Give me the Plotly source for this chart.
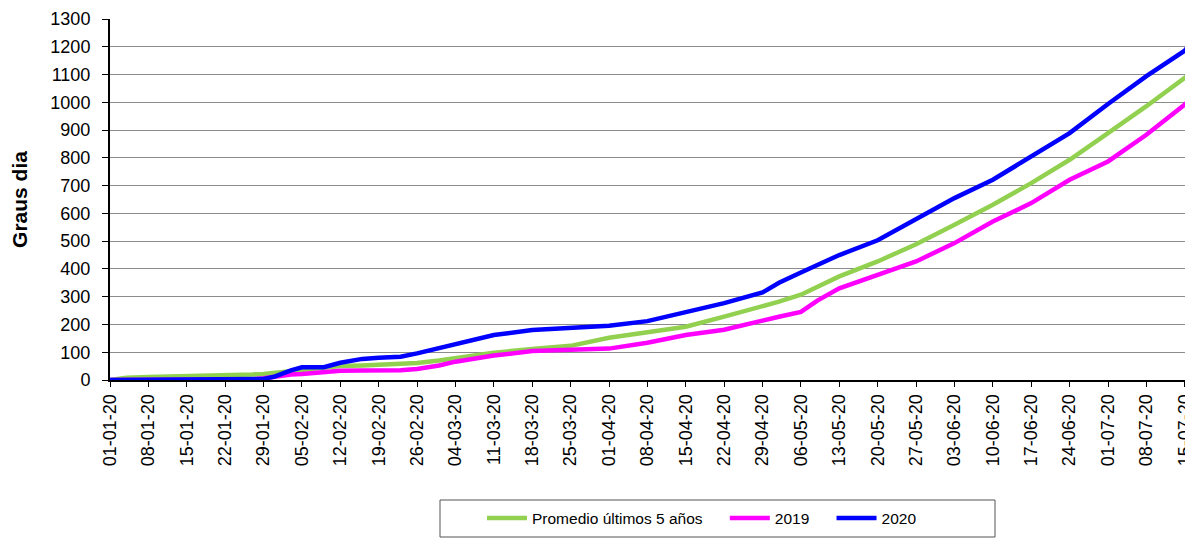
import plotly.graph_objects as go

dates = ["2020-01-01", "2020-01-04", "2020-01-08", "2020-01-15", "2020-01-22", "2020-01-27",
         "2020-01-29", "2020-01-31", "2020-02-03", "2020-02-05", "2020-02-09", "2020-02-12",
         "2020-02-16", "2020-02-19", "2020-02-23", "2020-02-26", "2020-03-01", "2020-03-04",
         "2020-03-11", "2020-03-18", "2020-03-25", "2020-04-01", "2020-04-08", "2020-04-15",
         "2020-04-22", "2020-04-29", "2020-05-02", "2020-05-06", "2020-05-09", "2020-05-13",
         "2020-05-20", "2020-05-27", "2020-06-03", "2020-06-10", "2020-06-17", "2020-06-24",
         "2020-07-01", "2020-07-08", "2020-07-15", "2020-07-16"]

promedio = [0, 8, 11, 13, 16, 20, 22, 26, 32, 37, 45, 50, 52, 54, 57, 61, 70, 78,
            98, 112, 123, 152, 171, 192, 228, 264, 282, 307, 336, 373, 427, 489, 559,
            631, 709, 793, 889, 986, 1088, 1105]

y2019 = [0, 0, 0, 0, 0, 2, 6, 12, 20, 22, 28, 33, 34, 34, 35, 40, 52, 66,
         88, 104, 109, 113, 134, 162, 181, 216, 228, 245, 286, 330, 379, 427, 493,
         571, 637, 721, 787, 883, 992, 1010]

y2020 = [0, 0, 0, 0, 0, 1, 4, 12, 35, 46, 46, 62, 76, 80, 84, 96, 115, 132,
         162, 180, 187, 195, 212, 245, 277, 315, 350, 387, 415, 450, 503, 580, 655,
         721, 805, 889, 994, 1094, 1186, 1210]

tick_dates = ["2020-01-01", "2020-01-08", "2020-01-15", "2020-01-22", "2020-01-29",
              "2020-02-05", "2020-02-12", "2020-02-19", "2020-02-26", "2020-03-04",
              "2020-03-11", "2020-03-18", "2020-03-25", "2020-04-01", "2020-04-08",
              "2020-04-15", "2020-04-22", "2020-04-29", "2020-05-06", "2020-05-13",
              "2020-05-20", "2020-05-27", "2020-06-03", "2020-06-10", "2020-06-17",
              "2020-06-24", "2020-07-01", "2020-07-08", "2020-07-15"]
y_ticks = list(range(0, 1301, 100))

NB = "\u00a0"
fig = go.Figure()
fig.add_trace(go.Scatter(x=dates, y=promedio, mode="lines",
                         name="Promedio últimos 5 años" + NB * 4,
                         line=dict(color="#92D050", width=4.5)))
fig.add_trace(go.Scatter(x=dates, y=y2019, mode="lines", name="2019" + NB * 4,
                         line=dict(color="#FF00FF", width=4.5)))
fig.add_trace(go.Scatter(x=dates, y=y2020, mode="lines", name="2020",
                         line=dict(color="#0000FF", width=4.5)))

# page is drawn with an 8px body offset
OFF = 8
W, H = 1193, 547
L, R, T, B = 102, 8, 11, 175
pw, ph = W - L - R, H - T - B

def px_x(p):
    return (p - OFF - L) / pw

def px_y(p):
    return (H - B - (p - OFF)) / ph

font_family = "Liberation Sans, Arial, sans-serif"
fig.update_layout(
    width=W, height=H,
    margin=dict(l=L, r=R, t=T, b=B, autoexpand=False),
    paper_bgcolor="white", plot_bgcolor="white",
    font=dict(family=font_family, size=18, color="black"),
    showlegend=True,
    legend=dict(orientation="h", x=px_x(702), xanchor="center",
                y=px_y(518.5), yanchor="middle",
                bgcolor="rgba(0,0,0,0)", borderwidth=0, font=dict(size=15.5),
                itemwidth=40),
    shapes=[dict(type="rect", xref="paper", yref="paper",
                 x0=px_x(440), x1=px_x(995), y0=px_y(537), y1=px_y(500),
                 line=dict(color="#555555", width=1), fillcolor="rgba(0,0,0,0)",
                 layer="below")],
    xaxis=dict(type="date", range=["2020-01-01", "2020-07-16 12:00"],
               tickvals=tick_dates, tickformat="%d-%m-%y", tickangle=-90,
               ticks="outside", ticklen=5, tickcolor="black", automargin=False,
               showline=True, linecolor="black", linewidth=2,
               showgrid=False, zeroline=False, tickfont=dict(size=18)),
    yaxis=dict(range=[0, 1300], tickvals=y_ticks, ticks="outside", ticklen=6,
               tickcolor="black", showline=True, linecolor="black", linewidth=2,
               showgrid=True, gridcolor="#8c8c8c", gridwidth=1, zeroline=False,
               automargin=False, ticklabelstandoff=8,
               tickfont=dict(size=18),
               title=dict(text="<b>Graus dia</b>", font=dict(size=21), standoff=20)),
)

fig.write_html("out.html")
